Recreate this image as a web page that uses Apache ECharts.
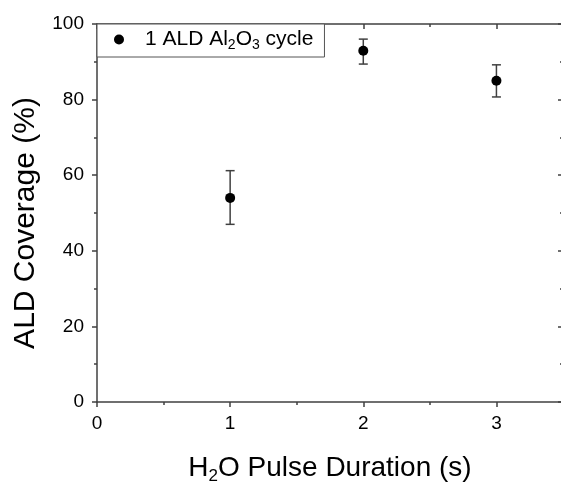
<!DOCTYPE html>
<html>
<head>
<meta charset="utf-8">
<script src="https://cdn.jsdelivr.net/npm/echarts@6/dist/echarts.min.js"></script>
<style>
  html, body { margin: 0; padding: 0; background: #fff; }
  #chart { width: 561px; height: 484px; }
</style>
</head>
<body>
<div id="chart"></div>
<script>
// data
var pulseDuration = [1, 2, 3];
var coverage = [54.0, 92.9, 85.0];
var errLow = [47.0, 89.4, 80.7];
var errHigh = [61.2, 96.0, 89.2];
var xTicks = [0, 1, 2, 3];
var yTicks = [0, 20, 40, 60, 80, 100];

var axisColor = '#404040';
var font = 'Liberation Sans, Arial, sans-serif';

var points = pulseDuration.map(function (x, i) { return [x, coverage[i]]; });
var bars = pulseDuration.map(function (x, i) { return [x, errLow[i], errHigh[i]]; });

var chart = echarts.init(document.getElementById('chart'));

var option = {
  animation: false,
  grid: { left: 97, top: 24, right: -2, bottom: 82, outerBoundsMode: 'none' },
  legend: {
    data: ['cov'],
    left: 97,
    top: 24,
    orient: 'vertical',
    padding: [5, 11, 5, 17],
    borderColor: '#555',
    borderWidth: 1,
    itemWidth: 10,
    itemHeight: 10,
    itemGap: 0,
    backgroundColor: '#fff',
    formatter: function () { return '1 ALD Al{s|2}O{s|3} cycle'; },
    textStyle: {
      fontFamily: font,
      fontSize: 21,
      color: '#000',
      padding: [0, 0, 0, 16],
      rich: {
        s: { fontFamily: font, fontSize: 14, verticalAlign: 'bottom', padding: [11, 0, 0, 0], color: '#000' }
      }
    }
  },
  xAxis: [{
    type: 'value',
    min: 0,
    max: 3.5,
    interval: 1,
    position: 'bottom',
    name: 'H{s|2}O Pulse Duration (s)',
    nameLocation: 'middle',
    nameGap: 50,
    nameTextStyle: {
      fontFamily: font, fontSize: 28, color: '#000',
      rich: { s: { fontFamily: font, fontSize: 17, padding: [16, 0, 0, 0], color: '#000' } }
    },
    axisLine: { show: true, onZero: false, lineStyle: { color: axisColor, width: 1.5 } },
    axisTick: { show: true, inside: false, length: 5, lineStyle: { color: axisColor, width: 1.5 } },
    minorTick: { show: true, splitNumber: 2, length: 3, lineStyle: { color: axisColor, width: 1.5 } },
    splitLine: { show: false },
    axisLabel: {
      fontFamily: font, fontSize: 19, color: '#000', margin: 12,
      formatter: function (v) { return xTicks.indexOf(v) >= 0 ? String(v) : ''; }
    }
  }, {
    type: 'value',
    min: 0,
    max: 3.5,
    interval: 1,
    position: 'top',
    axisLine: { show: true, onZero: false, lineStyle: { color: axisColor, width: 1.5 } },
    axisTick: { show: true, inside: true, length: 5, lineStyle: { color: axisColor, width: 1.5 } },
    minorTick: { show: true, splitNumber: 2, length: 3, lineStyle: { color: axisColor, width: 1.5 } },
    splitLine: { show: false },
    axisLabel: { show: false }
  }],
  yAxis: [{
    type: 'value',
    min: 0,
    max: 100,
    interval: 20,
    position: 'left',
    name: 'ALD Coverage (%)',
    nameLocation: 'middle',
    nameGap: 56,
    nameTextStyle: { fontFamily: font, fontSize: 30, color: '#000', padding: [0, 20, 0, 0] },
    axisLine: { show: true, onZero: false, lineStyle: { color: axisColor, width: 1.5 } },
    axisTick: { show: true, inside: false, length: 5, lineStyle: { color: axisColor, width: 1.5 } },
    minorTick: { show: true, splitNumber: 2, length: 3, lineStyle: { color: axisColor, width: 1.5 } },
    splitLine: { show: false },
    axisLabel: {
      fontFamily: font, fontSize: 19, color: '#000', margin: 13,
      formatter: function (v) { return yTicks.indexOf(v) >= 0 ? String(v) : ''; }
    }
  }, {
    type: 'value',
    min: 0,
    max: 100,
    interval: 20,
    position: 'right',
    axisLine: { show: true, onZero: false, lineStyle: { color: axisColor, width: 1.5 } },
    axisTick: { show: true, inside: true, length: 5, lineStyle: { color: axisColor, width: 1.5 } },
    minorTick: { show: true, splitNumber: 2, length: 3, lineStyle: { color: axisColor, width: 1.5 } },
    splitLine: { show: false },
    axisLabel: { show: false }
  }],
  series: [{
    name: 'err',
    type: 'custom',
    xAxisIndex: 0,
    yAxisIndex: 0,
    data: bars,
    renderItem: function (params, api) {
      var x = api.value(0);
      var lo = api.coord([x, api.value(1)]);
      var hi = api.coord([x, api.value(2)]);
      var hw = 4.5;
      var style = { stroke: axisColor, lineWidth: 1.5 };
      return {
        type: 'group',
        children: [
          { type: 'line', shape: { x1: lo[0], y1: lo[1], x2: hi[0], y2: hi[1] }, style: style },
          { type: 'line', shape: { x1: lo[0] - hw, y1: lo[1], x2: lo[0] + hw, y2: lo[1] }, style: style },
          { type: 'line', shape: { x1: hi[0] - hw, y1: hi[1], x2: hi[0] + hw, y2: hi[1] }, style: style }
        ]
      };
    },
    z: 2
  }, {
    name: 'cov',
    type: 'scatter',
    xAxisIndex: 0,
    yAxisIndex: 0,
    data: points,
    symbol: 'circle',
    symbolSize: 10,
    itemStyle: { color: '#000', opacity: 1 },
    z: 3
  }]
};

chart.setOption(option);
</script>
</body>
</html>
